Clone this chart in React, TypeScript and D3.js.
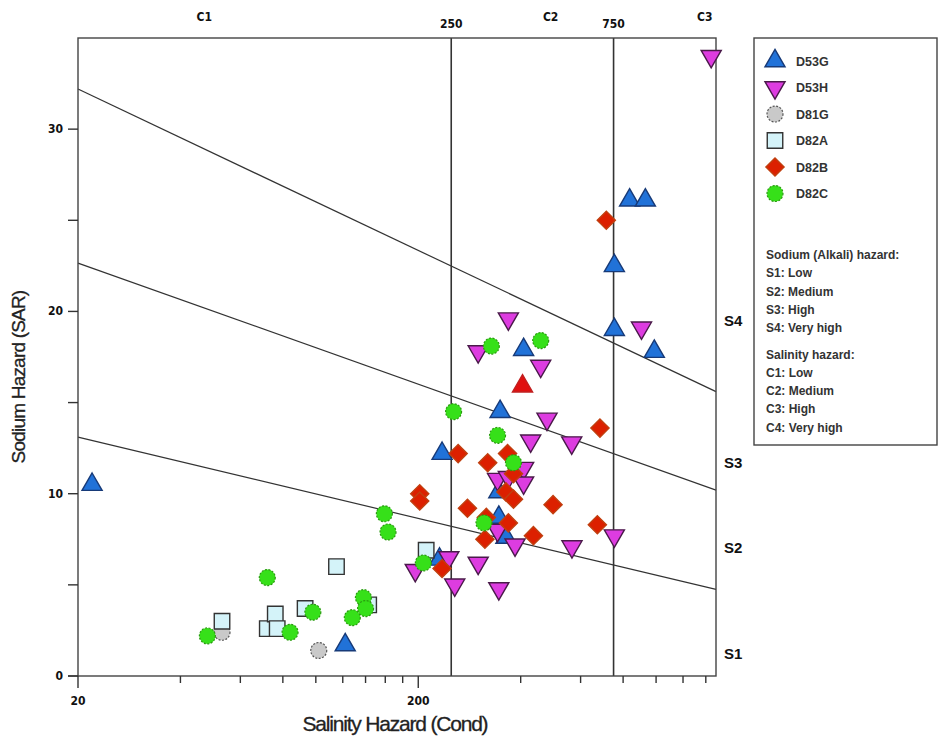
import React from "react";
import * as d3 from "d3";

// [conductivity, SAR]
const d53g: [number, number][] = [
  [22, 10.5], [122, 1.7], [231, 6.4], [235, 12.2], [348, 14.5], [408, 17.9],
  [345, 10.1], [345, 8.7], [362, 7.6], [754, 22.5], [754, 19.0], [836, 26.1],
  [930, 26.1], [988, 17.8],
];
const d53h: [number, number][] = [
  [1452, 34.0], [906, 19.1], [754, 7.7], [368, 19.6], [300, 17.8], [458, 17.0],
  [478, 14.1], [565, 12.8], [428, 12.9], [342, 10.8], [368, 10.9], [408, 11.4],
  [408, 10.6], [342, 8.0], [385, 7.2], [566, 7.1], [196, 5.8], [246, 6.5],
  [300, 6.2], [256, 5.0], [345, 4.8],
];
const d81g: [number, number][] = [[53, 2.4], [102, 1.4]];
const d82a: [number, number][] = [
  [53, 3.0], [72, 2.6], [76, 3.4], [77, 2.6], [93, 3.7], [143, 3.9], [115, 6.0], [211, 6.9],
];
const d82b: [number, number][] = [
  [714, 25.0], [684, 13.6], [672, 8.3], [262, 12.2], [320, 11.7], [366, 12.2],
  [381, 11.1], [362, 10.1], [381, 9.7], [202, 10.0], [202, 9.6], [279, 9.2],
  [498, 9.4], [317, 8.7], [368, 8.4], [314, 7.5], [436, 7.7], [235, 5.9],
];
const d82c: [number, number][] = [
  [48, 2.2], [72, 5.4], [84, 2.4], [98, 3.5], [128, 3.2], [138, 4.3], [140, 3.7],
  [159, 8.9], [163, 7.9], [207, 6.2], [254, 14.5], [328, 18.1], [458, 18.4],
  [342, 13.2], [381, 11.7], [312, 8.4],
];
// single red up-triangle
const redTriangle: [number, number][] = [[405, 15.9]];

// boundary lines between sodium classes: [cond, SAR] end points
const sodiumLines: [number, number][][] = [
  [[20, 13.1], [1500, 4.75]],
  [[20, 22.65], [1500, 10.2]],
  [[20, 32.2], [1500, 15.6]],
];
const salinityBounds = [250, 750];
const xTicks = [20, 40, 60, 80, 100, 120, 140, 160, 180, 200, 400, 600, 800, 1000, 1200, 1400];
const xLabels = [20, 200];
const yTicks = [0, 5, 10, 15, 20, 25, 30];
const yLabels = [0, 10, 20, 30];
const classLabels = [
  { t: "C1", x: 47 }, { t: "C2", x: 490 }, { t: "C3", x: 1390 },
];
const sLabels = [
  { t: "S4", y: 19.5 }, { t: "S3", y: 11.7 }, { t: "S2", y: 7.0 }, { t: "S1", y: 1.2 },
];
const hazardText = [
  "Sodium (Alkali) hazard:", "S1: Low", "S2: Medium", "S3: High", "S4: Very high",
  "Salinity hazard:", "C1: Low", "C2: Medium", "C3: High", "C4: Very high",
];

const series = [
  { name: "D53G", data: d53g, shape: "up", fill: "#2172d8", stroke: "#173a78" },
  { name: "D53H", data: d53h, shape: "down", fill: "#dd3ce0", stroke: "#4a1a4a" },
  { name: "D81G", data: d81g, shape: "circle", fill: "#c9c9c9", stroke: "#555" },
  { name: "D82A", data: d82a, shape: "square", fill: "#d4f3f9", stroke: "#333" },
  { name: "D82B", data: d82b, shape: "diamond", fill: "#dc2000", stroke: "#c04010" },
  { name: "D82C", data: d82c, shape: "circle", fill: "#36e019", stroke: "#2a9a10" },
];

const margin = { left: 78, right: 224, top: 38, bottom: 65 };
const W = 940;
const H = 741;

function symbolPath(shape: string) {
  if (shape === "up" || shape === "down") return d3.symbol(d3.symbolTriangle, 175)()!;
  if (shape === "circle") return d3.symbol(d3.symbolCircle, 200)()!;
  if (shape === "square") return d3.symbol(d3.symbolSquare, 240)()!;
  return d3.symbol(d3.symbolSquare, 165)()!;
}
function symbolRot(shape: string) {
  if (shape === "down") return 180;
  if (shape === "diamond") return 45;
  return 0;
}

function Marker({ x, y, shape, fill, stroke }: any) {
  return (
    <path
      d={symbolPath(shape)}
      transform={`translate(${x},${y}) rotate(${symbolRot(shape)})`}
      fill={fill}
      stroke={stroke}
      strokeWidth={shape === "circle" ? 1.2 : 1.4}
      strokeDasharray={shape === "circle" ? "2,1.5" : undefined}
    />
  );
}

export default function App() {
  const x = d3.scaleLog().domain([20, 1500]).range([margin.left, W - margin.right]);
  const y = d3.scaleLinear().domain([0, 35]).range([H - margin.bottom, margin.top]);
  const x0 = margin.left, x1 = W - margin.right, y0 = H - margin.bottom, y1 = margin.top;
  const line = d3.line<[number, number]>().x((d) => x(d[0])).y((d) => y(d[1]));
  const font = "Arial, 'Liberation Sans', sans-serif";
  const narrow = "'Liberation Sans Narrow', 'DejaVu Sans Condensed', Arial, sans-serif";

  return (
    <svg width={W} height={H} style={{ position: "absolute", left: 0, top: 0, background: "#fff" }} fontFamily={font}>
      {/* class boundary lines */}
      {sodiumLines.map((l, i) => (
        <path key={i} d={line(l)!} stroke="#333" strokeWidth={1.2} fill="none" />
      ))}
      {salinityBounds.map((b) => (
        <line key={b} x1={x(b)} x2={x(b)} y1={y1} y2={y0} stroke="#333" strokeWidth={1.6} />
      ))}
      {/* frame */}
      <rect x={x0} y={y1} width={x1 - x0} height={y0 - y1} fill="none" stroke="#444" strokeWidth={1.4} />
      <line x1={x0 - 10} x2={x0} y1={y0} y2={y0} stroke="#444" strokeWidth={1.4} />
      {/* axes ticks */}
      {xTicks.map((t) => {
        const major = xLabels.includes(t);
        return <line key={t} x1={x(t)} x2={x(t)} y1={y0} y2={y0 + (major ? 12 : 7)} stroke="#333" strokeWidth={1.4} />;
      })}
      <g fontFamily={narrow} fontWeight="bold" fontSize={12} fill="#111">
        {xLabels.map((t) => (
          <text key={t} x={x(t)} y={y0 + 29} textAnchor="middle">{t}</text>
        ))}
        {yLabels.map((t) => (
          <text key={t} x={x0 - 15} y={y(t) + 4} textAnchor="end">{t}</text>
        ))}
        {/* top labels */}
        {classLabels.map((c) => (
          <text key={c.t} x={x(c.x)} y={21} textAnchor="middle">{c.t}</text>
        ))}
        {salinityBounds.map((b) => (
          <text key={b} x={x(b)} y={28} textAnchor="middle">{b}</text>
        ))}
      </g>
      {yTicks.map((t) => (
        <line key={t} x1={x0 - 10} x2={x0} y1={y(t)} y2={y(t)} stroke="#333" strokeWidth={1.4} />
      ))}
      {sLabels.map((s) => (
        <text key={s.t} x={x1 + 8} y={y(s.y) + 5} fontSize={15} fontWeight="bold" fill="#111">{s.t}</text>
      ))}
      {/* axis titles */}
      <text x={395} y={731} textAnchor="middle" fontSize={21} fill="#222" stroke="#222" strokeWidth={0.3} letterSpacing={-1.2}>Salinity Hazard (Cond)</text>
      <text transform={`translate(25,${(y0 + y1) / 2 + 20}) rotate(-90)`} textAnchor="middle" fontSize={19} fill="#222" stroke="#222" strokeWidth={0.3} letterSpacing={-0.8}>Sodium Hazard (SAR)</text>
      {/* points */}
      {series.map((s) =>
        s.data.map((d, i) => (
          <Marker key={s.name + i} x={x(d[0])} y={y(d[1])} shape={s.shape} fill={s.fill} stroke={s.stroke} />
        ))
      )}
      {redTriangle.map((d, i) => (
        <Marker key={"rt" + i} x={x(d[0])} y={y(d[1])} shape="up" fill="#e01010" stroke="#c02020" />
      ))}
      {/* legend */}
      <rect x={754} y={38} width={183} height={407} fill="#fff" stroke="#444" strokeWidth={1.4} />
      {series.map((s, i) => (
        <g key={s.name} transform={`translate(0,${61 + i * 26.5})`}>
          <Marker x={775} y={0} shape={s.shape} fill={s.fill} stroke={s.stroke} />
          <text x={796} y={4.5} fontSize={12.5} fontWeight="bold" fill="#333">{s.name}</text>
        </g>
      ))}
      {hazardText.map((t, i) => (
        <text key={t} x={766} y={259 + i * 18.3 + (i >= 5 ? 8 : 0)} fontSize={12} fontWeight="bold" fill="#333">{t}</text>
      ))}
    </svg>
  );
}
